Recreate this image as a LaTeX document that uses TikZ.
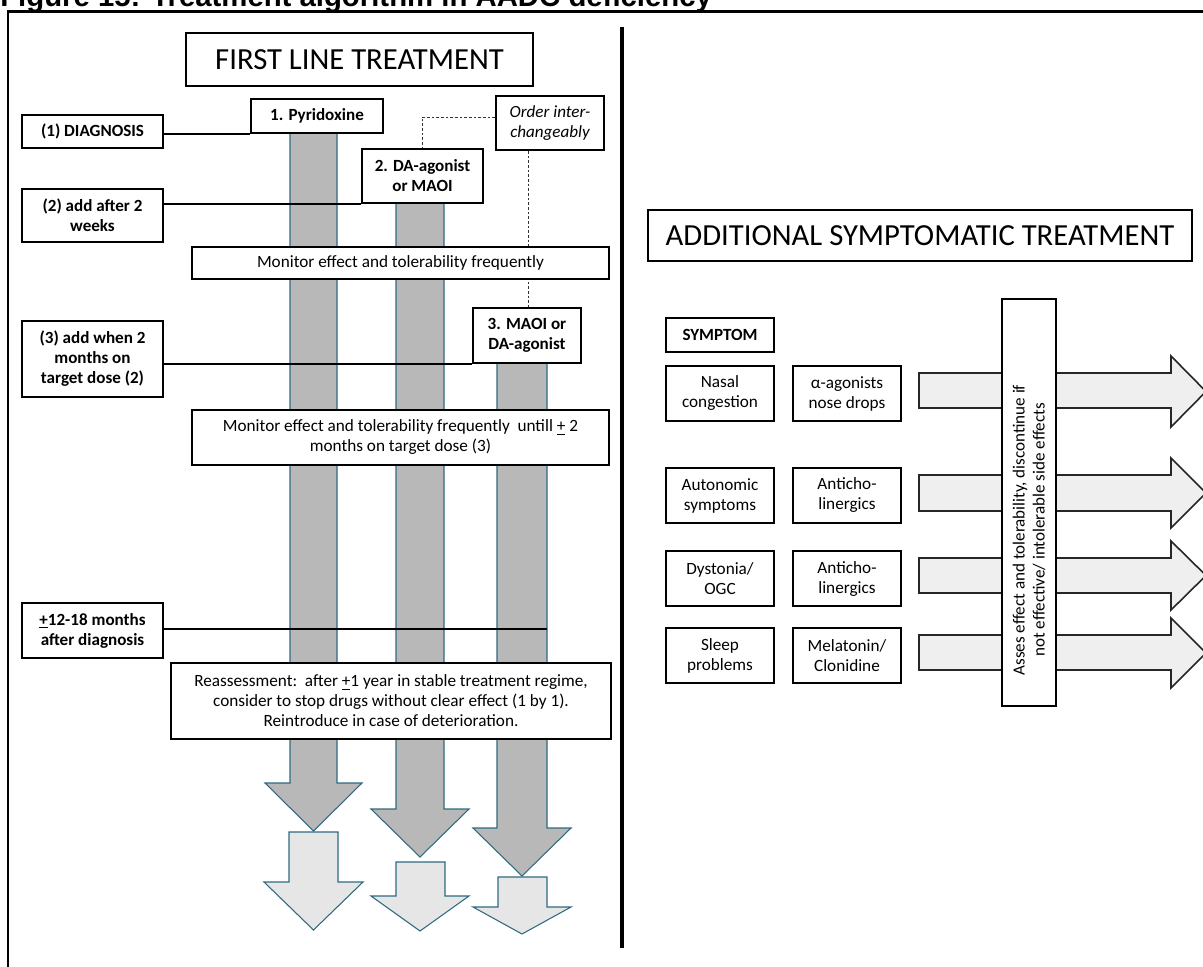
\documentclass[tikz,border=0pt]{standalone}
\usepackage{fontspec}
\setmainfont{Carlito}
\newfontfamily\headfont{Liberation Sans}
\usetikzlibrary{calc,shadows}
\definecolor{barline}{HTML}{2F6A80}
\definecolor{barfill}{HTML}{B8B8B8}
\definecolor{lightfill}{HTML}{E6E6E6}
\definecolor{rarrfill}{HTML}{EFEFEF}
\newcommand\bx[7]{\node[#6, minimum width={(#4-#2)*0.75pt}, minimum height={(#5-#3)*0.75pt}] (#1) at ({(#2+#4)/2},{(#3+#5)/2}) {#7};}
\tikzset{
  basebox/.style={draw=black, line width=1.35pt, fill=white, align=center, inner sep=1pt,
    drop shadow={shadow xshift=0.7pt, shadow yshift=-0.7pt, opacity=0.35}},
  lbox/.style={basebox, font=\fontsize{12.8}{15}\selectfont\bfseries},
  nbox/.style={basebox, font=\fontsize{12.9}{15}\selectfont},
  ibox/.style={basebox, font=\fontsize{12.8}{15}\selectfont\itshape},
  tbox/.style={basebox, font=\fontsize{23}{27}\selectfont},
  darrow/.style={fill=barfill, draw=barline, line width=0.8pt, line join=miter},
  larrow/.style={fill=lightfill, draw=barline, line width=0.8pt, line join=miter},
  rarrow/.style={fill=rarrfill, draw=black!85, line width=1.2pt, line join=miter},
  conn/.style={draw=black, line width=0.9pt},
  dconn/.style={draw=black!80, line width=0.6pt, dash pattern=on 2pt off 1.5pt},
}
\begin{document}
\begin{tikzpicture}[x=0.75pt, y=-0.75pt]
\useasboundingbox (0,0) rectangle (1203,967);
\clip (0,0) rectangle (1203,967);
% heading
\node[anchor=base west, inner sep=0, font=\headfont\bfseries\fontsize{22}{26}\selectfont] (fig) at (0,7) {Figure 15: Treatment algorithm in AADC deficiency};
% frame and divider
\draw[line width=1.9pt] (8,975) -- (8,11.5) -- (1210,11.5);
\draw[line width=3pt] (622,27) -- (622,948);

% ---------- left panel: bars and arrows ----------
\path[darrow] (290,133) -- (290,783) -- (265,783) -- (313.5,831) -- (362,783) -- (337,783) -- (337,133);
\path[larrow] (289,832) -- (338,832) -- (338,882) -- (363,882) -- (313.5,930) -- (264,882) -- (289,882) -- cycle;
\path[darrow] (396,202) -- (396,809) -- (371,809) -- (420,857) -- (469,809) -- (444,809) -- (444,202);
\path[larrow] (396,862) -- (445,862) -- (445,896) -- (469,896) -- (420,931) -- (371,896) -- (396,896) -- cycle;
\path[darrow] (497,362) -- (497,828) -- (473,828) -- (522,876) -- (571,828) -- (547,828) -- (547,362);
\path[larrow] (498,877) -- (547,877) -- (547,907) -- (571,907) -- (522,934) -- (473,907) -- (498,907) -- cycle;

% boxes (left)
\bx{title1}{186}{33}{533}{86}{tbox}{FIRST LINE TREATMENT}
\bx{diag}{22}{115}{163}{148}{lbox}{(1) DIAGNOSIS}
\bx{pyr}{251}{99}{383}{133}{lbox}{1. Pyridoxine}
\bx{order}{496}{96}{604}{150}{ibox}{Order inter-\\changeably}
\bx{da}{362}{149}{483}{203}{lbox}{2. DA-agonist\\or MAOI}
\bx{add2}{22}{189}{163}{242}{lbox}{(2) add after 2\\weeks}
\coordinate (m12end) at (547,629);
% connectors
\draw[conn] (diag.east |- pyr.south) -- (pyr.south west);
\draw[conn] (add2.east |- da.south) -- (da.south west);
\draw[dconn] (order.west |- 0,117) -- (422,117) -- (da.north -| 422,0);
\draw[dconn] (order.south -| 528,0) -- (528,308);
\bx{mon1}{192}{247}{609}{279}{nbox}{Monitor effect and tolerability frequently}
\bx{maoi}{473}{308}{581}{363}{lbox}{3. MAOI or\\DA-agonist}
\bx{add3}{22}{321}{163}{397}{lbox}{(3) add when 2\\months on\\target dose (2)}
\draw[conn] (add3.east |- maoi.south) -- (maoi.south west);
\bx{mon2}{192}{410}{609}{465}{nbox}{Monitor effect and tolerability frequently\ \ untill \underline{+} 2\\months on target dose (3)}
\bx{m12}{22}{603}{163}{658}{lbox}{\underline{+}12-18 months\\after diagnosis}
\draw[conn] (m12.east |- m12end) -- (m12end);
\bx{reas}{171}{663}{611}{739}{nbox}{Reassessment:\ \ after \underline{+}1 year in stable treatment regime,\\consider to stop drugs without clear effect (1 by 1).\\Reintroduce in case of deterioration.}

% ---------- right panel ----------
\bx{title2}{648}{210}{1192}{261}{tbox}{ADDITIONAL SYMPTOMATIC TREATMENT}
\path[rarrow] (919,373) -- (1171,373) -- (1171,356) -- (1206,391.5) -- (1171,427) -- (1171,408) -- (919,408) -- cycle;
\path[rarrow] (919,475) -- (1171,475) -- (1171,458) -- (1206,493) -- (1171,528) -- (1171,511) -- (919,511) -- cycle;
\path[rarrow] (919,558) -- (1171,558) -- (1171,541) -- (1206,575.5) -- (1171,610) -- (1171,593) -- (919,593) -- cycle;
\path[rarrow] (919,635) -- (1171,635) -- (1171,618) -- (1206,653) -- (1171,688) -- (1171,670) -- (919,670) -- cycle;
\bx{symptom}{666}{318}{774}{352}{lbox}{SYMPTOM}
\bx{s1}{666}{366}{774}{421}{nbox}{Nasal\\congestion}
\bx{t1}{793}{366}{901}{421}{nbox}{α-agonists\\nose drops}
\bx{s2}{666}{468}{774}{523}{nbox}{Autonomic\\symptoms}
\bx{t2}{793}{468}{901}{523}{nbox}{Anticho-\\linergics}
\bx{s3}{666}{551}{774}{606}{nbox}{Dystonia/\\OGC}
\bx{t3}{793}{551}{901}{606}{nbox}{Anticho-\\linergics}
\bx{s4}{666}{628}{774}{683}{nbox}{Sleep\\problems}
\bx{t4}{793}{628}{901}{683}{nbox}{Melatonin/\\Clonidine}
\bx{vbox}{1002}{299}{1056}{706}{basebox}{}
\node[rotate=90, align=center, inner sep=0, font=\fontsize{12.8}{15}\selectfont] (vtext) at (1029,530) {Asses effect and tolerability, discontinue if\\not effective/ intolerable side effects};
\end{tikzpicture}
\end{document}
